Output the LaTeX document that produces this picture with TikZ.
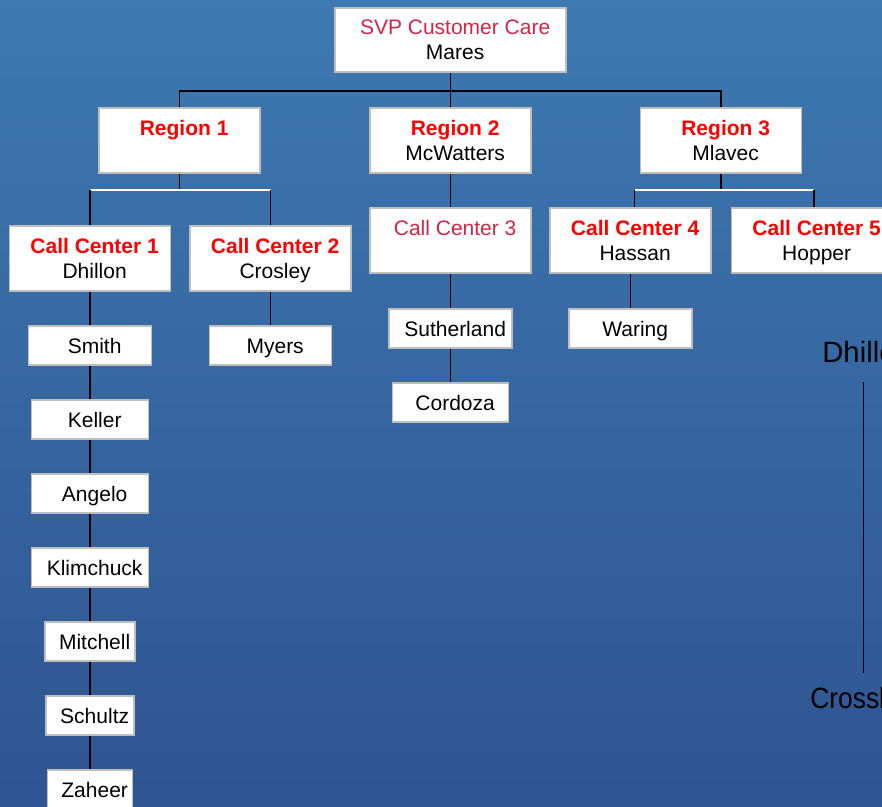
\documentclass[tikz,border=0pt]{standalone}
\usepackage{fontspec}
\setmainfont{Liberation Sans}
\usepackage{tikz}

\definecolor{bgtop}{RGB}{62,121,177}
\definecolor{bgbot}{RGB}{46,84,145}
\definecolor{svpred}{RGB}{212,38,68}
\definecolor{boxgray}{RGB}{190,190,190}

% two lines in a big box, first one a head
\newcommand{\twoline}[2]{\hspace*{7pt}\strut#1\\\hspace*{7pt}\smash{#2}\rule[-2.6pt]{0pt}{2.6pt}}
\newcommand{\head}[1]{\textcolor{red}{\textbf{#1}}}

\begin{document}
\begin{tikzpicture}[
		x=0.75pt, y=-0.75pt,
		every node/.style={font=\fontsize{15.75}{18.75}\selectfont},
		box/.style={rectangle, draw=boxgray, fill=white, line width=0.8pt, inner sep=0pt, align=center},
		bigbox/.style={box, minimum width=120.75pt, minimum height=48.75pt},
		smallbox/.style={box, minimum height=29.25pt, text height=11.3pt, text depth=0pt,
			execute at begin node={\hspace*{7pt}}},
		link/.style={line width=1.1pt, black},
		whitebus/.style={line width=1pt, white}
	]
  \shade[top color=bgtop, bottom color=bgbot] (0,0) rectangle (882,807);
  \useasboundingbox (0,0) rectangle (882,807);
  \clip (0,0) rectangle (882,807);

  \node (svp) [bigbox, minimum width=173.25pt, minimum height=48pt] at (450.5,40)
    {\twoline{\textcolor{svpred}{SVP Customer Care}}{Mares}};

  \node (region_1) [bigbox] at (179.5,140.5) {\twoline{\head{Region 1}}{}};
  \node (region_2) [bigbox] at (450.5,140.5) {\twoline{\head{Region 2}}{McWatters}};
  \node (region_3) [bigbox] at (721,140.5) {\twoline{\head{Region 3}}{Mlavec}};

  \node (cc_1) [bigbox] at (90,258.5) {\twoline{\head{Call Center 1}}{Dhillon}};
  \node (cc_2) [bigbox] at (270.5,258.5) {\twoline{\head{Call Center 2}}{Crosley}};
  \node (cc_3) [bigbox] at (450.5,240.5) {\twoline{\textcolor{svpred}{Call Center 3}}{}};
  \node (cc_4) [bigbox] at (630.5,240.5) {\twoline{\head{Call Center 4}}{Hassan}};
  \node (cc_5) [bigbox] at (812,240.5) {\twoline{\head{Call Center 5}}{Hopper}};

  \node (smith) [smallbox, minimum width=92.25pt] at (90,345.5) {Smith};
  \node (keller) [smallbox, minimum width=87.75pt] at (90,419.5) {Keller};
  \node (angelo) [smallbox, minimum width=87.75pt] at (90,493.5) {Angelo};
  \node (klimchuck) [smallbox, minimum width=87.75pt] at (90,567.5) {Klimchuck};
  \node (mitchell) [smallbox, minimum width=67.5pt] at (90,641.5) {Mitchell};
  \node (schultz) [smallbox, minimum width=66pt] at (90,715.5) {Schultz};
  \node (zaheer) [smallbox, minimum width=63.75pt] at (90,789.5) {Zaheer};

  \node (myers) [smallbox, minimum width=91.5pt] at (270.5,345.5) {Myers};
  \node (sutherland) [smallbox, minimum width=92.25pt] at (450.5,328.5) {Sutherland};
  \node (cordoza) [smallbox, minimum width=87pt] at (450.5,402.5) {Cordoza};
  \node (waring) [smallbox, minimum width=92.25pt] at (630.5,328.5) {Waring};

  \node (dhillon) [anchor=base west, inner sep=0pt, font=\fontsize{22}{26}\selectfont] at (822,362) {Dhillon};
  \node (crossley) [anchor=base west, inner sep=0pt, font=\fontsize{22}{26}\selectfont] at (810,708) {\scalebox{0.9}[1]{Crossley}};

  \coordinate (bus_top) at (450.5,91);
  \coordinate (bus_1) at (179.5,190);
  \coordinate (bus_3) at (721,190);

  \draw[link] (svp) -- (bus_top);
  \draw[link] (bus_top) -| (region_1);
  \draw[link] (bus_top) -- (region_2);
  \draw[link] (bus_top) -| (region_3);

  \draw[link] (region_1) -- (bus_1);
  \draw[whitebus] (cc_1 |- bus_1) -- (cc_2 |- bus_1);
  \draw[link] (cc_1 |- bus_1) -- (cc_1);
  \draw[link] (cc_2 |- bus_1) -- (cc_2);

  \draw[link] (region_2) -- (cc_3);

  \draw[link] (region_3) -- (bus_3);
  \draw[whitebus] ([xshift=3pt]cc_4 |- bus_3) -- ([xshift=1.5pt]cc_5 |- bus_3);
  \draw[link] ([xshift=3pt]cc_4 |- bus_3) -- ([xshift=3pt]cc_4.north);
  \draw[link] ([xshift=1.5pt]cc_5 |- bus_3) -- ([xshift=1.5pt]cc_5.north);

  \draw[link] (cc_1) -- (smith);
  \draw[link] (smith) -- (keller);
  \draw[link] (keller) -- (angelo);
  \draw[link] (angelo) -- (klimchuck);
  \draw[link] (klimchuck) -- (mitchell);
  \draw[link] (mitchell) -- (schultz);
  \draw[link] (schultz) -- (zaheer);
  \draw[link] (cc_2) -- (myers);
  \draw[link] (cc_3) -- (sutherland);
  \draw[link] (sutherland) -- (cordoza);
  \draw[link] (cc_4) -- (waring);

  \draw[line width=0.75pt] ([shift={(41,20)}]dhillon.base west) -- ([shift={(53,-35)}]crossley.base west);
\end{tikzpicture}
\end{document}
